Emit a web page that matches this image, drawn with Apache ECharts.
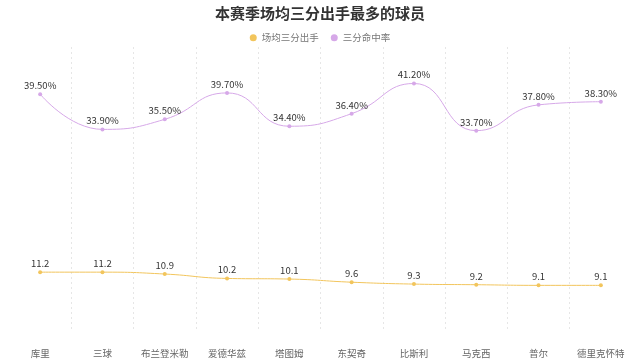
<!DOCTYPE html>
<html><head><meta charset="utf-8">
<script src="https://cdn.jsdelivr.net/npm/echarts@6/dist/echarts.min.js"></script>
<style>html,body{margin:0;padding:0;background:#fff}#c{width:640px;height:362px}</style>
</head><body><div id="c"></div>
<script>
const categories = ['库里','三球','布兰登米勒','爱德华兹','塔图姆','东契奇','比斯利','马克西','普尔','德里克怀特'];
const attempts = [11.2, 11.2, 10.9, 10.2, 10.1, 9.6, 9.3, 9.2, 9.1, 9.1];
const pct = [39.5, 33.9, 35.5, 39.7, 34.4, 36.4, 41.2, 33.7, 37.8, 38.3];
const font = '"Noto Sans CJK SC", "Microsoft YaHei", sans-serif';
const chart = echarts.init(document.getElementById('c'));
chart.setOption({
  animation: false,
  textStyle: {fontFamily: font},
  title: {text: '本赛季场均三分出手最多的球员', left: 'center', top: 1,
    textStyle: {fontSize: 15, fontWeight: 'bold', color: '#333', fontFamily: font}},
  legend: {top: 28, itemWidth: 7, itemHeight: 7, itemGap: 12, icon: 'circle',
    textStyle: {fontSize: 9.5, color: '#777', fontFamily: font},
    data: ['场均三分出手', '三分命中率']},
  grid: {left: 9, right: 8, top: 47, bottom: 32},
  xAxis: {type: 'category', data: categories, boundaryGap: true,
    axisLine: {show: false}, axisTick: {show: false},
    axisLabel: {interval: 0, margin: 19, fontSize: 9.5, color: '#666', fontFamily: font},
    splitLine: {show: true, interval: 0, showMinLine: false, showMaxLine: false,
      lineStyle: {type: [2, 3], color: '#e6e6e6'}}},
  yAxis: {type: 'value', min: 2, max: 47, show: false, splitLine: {show: false}},
  series: [
    {name: '场均三分出手', type: 'line', smooth: true, data: attempts,
      symbol: 'circle', symbolSize: 4, color: '#f2c55c',
      lineStyle: {width: 1, color: '#f2c55c'},
      label: {show: true, position: 'top', distance: 2, fontSize: 9.5, color: '#333', fontFamily: font}},
    {name: '三分命中率', type: 'line', smooth: true, data: pct,
      symbol: 'circle', symbolSize: 4, color: '#d6a8e8',
      lineStyle: {width: 1, color: '#d6a8e8'},
      label: {show: true, position: 'top', distance: 2, fontSize: 9.5, color: '#333', fontFamily: font,
        formatter: p => p.value.toFixed(2) + '%'}}
  ]
});
</script></body></html>
